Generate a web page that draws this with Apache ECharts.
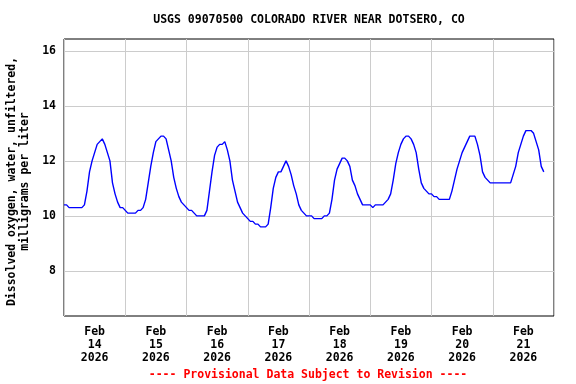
<!DOCTYPE html>
<html>
<head>
<meta charset="utf-8">
<script src="https://cdn.jsdelivr.net/npm/echarts@6/dist/echarts.min.js"></script>
<style>html,body{margin:0;padding:0;background:#fff}#c{width:576px;height:384px}</style>
</head>
<body>
<div id="c"></div>
<script>
// Hours since Feb 14 2026 00:00 (hourly readings)
const hours = [];
for (let h = 0; h <= 188; h++) hours.push(h);

// Dissolved oxygen, mg/L
const day14 = [10.4,10.4,10.3,10.3,10.3,10.3,10.3,10.3,10.4,10.9,11.6,12.0,12.3,12.6,12.7,12.8,12.6,12.3,12.0,11.2,10.8,10.5,10.3,10.3];
const day15 = [10.2,10.1,10.1,10.1,10.1,10.2,10.2,10.3,10.6,11.2,11.8,12.3,12.7,12.8,12.9,12.9,12.8,12.4,12.0,11.4,11.0,10.7,10.5,10.4];
const day16 = [10.3,10.2,10.2,10.1,10.0,10.0,10.0,10.0,10.2,10.9,11.6,12.2,12.5,12.6,12.6,12.7,12.4,12.0,11.3,10.9,10.5,10.3,10.1,10.0];
const day17 = [9.9,9.8,9.8,9.7,9.7,9.6,9.6,9.6,9.7,10.3,11.0,11.4,11.6,11.6,11.8,12.0,11.8,11.5,11.1,10.8,10.4,10.2,10.1,10.0];
const day18 = [10.0,10.0,9.9,9.9,9.9,9.9,10.0,10.0,10.1,10.6,11.3,11.7,11.9,12.1,12.1,12.0,11.8,11.3,11.1,10.8,10.6,10.4,10.4,10.4];
const day19 = [10.4,10.3,10.4,10.4,10.4,10.4,10.5,10.6,10.8,11.3,11.9,12.3,12.6,12.8,12.9,12.9,12.8,12.6,12.3,11.7,11.2,11.0,10.9,10.8];
const day20 = [10.8,10.7,10.7,10.6,10.6,10.6,10.6,10.6,10.9,11.3,11.7,12.0,12.3,12.5,12.7,12.9,12.9,12.9,12.6,12.2,11.6,11.4,11.3,11.2];
const day21 = [11.2,11.2,11.2,11.2,11.2,11.2,11.2,11.2,11.5,11.8,12.3,12.6,12.9,13.1,13.1,13.1,13.0,12.7,12.4,11.8,11.6];
const oxygen = [].concat(day14, day15, day16, day17, day18, day19, day20, day21);

// Axis labels
const dayLabelHours = [12, 36, 60, 84, 108, 132, 156, 180];
const dayLabels = ['Feb\n14\n2026','Feb\n15\n2026','Feb\n16\n2026','Feb\n17\n2026','Feb\n18\n2026','Feb\n19\n2026','Feb\n20\n2026','Feb\n21\n2026'];
const yTicks = [8, 10, 12, 14, 16];

const titleText = 'USGS 09070500 COLORADO RIVER NEAR DOTSERO, CO';
const yName = 'Dissolved oxygen, water, unfiltered,\nmilligrams per liter';
const footer = '---- Provisional Data Subject to Revision ----';

const FONT = 'DejaVu Sans Mono';
const chart = echarts.init(document.getElementById('c'), null, {renderer: 'canvas'});
chart.setOption({
  animation: false,
  backgroundColor: '#fff',
  grid: {left: 64, right: 22, top: 39, bottom: 68, show: true, borderColor: '#000', borderWidth: 1, backgroundColor: 'transparent'},
  xAxis: {
    type: 'value', min: 0, max: 192, interval: 24,
    axisLine: {show: false}, axisTick: {show: false},
    splitLine: {show: true, lineStyle: {color: '#cccccc', width: 1}},
    axisLabel: {
      customValues: dayLabelHours,
      margin: 10,
      fontFamily: FONT, fontWeight: 'bold', fontSize: 11.5, color: '#000', lineHeight: 12.7, align: 'center',
      formatter: function (v) { const i = dayLabelHours.indexOf(Math.round(v)); return i >= 0 ? dayLabels[i] : ''; }
    }
  },
  yAxis: {
    type: 'value', min: 6.36, max: 16.43,
    axisLine: {show: false},
    axisTick: {show: false, customValues: yTicks},
    splitLine: {show: true, lineStyle: {color: '#cccccc', width: 1}},
    axisLabel: {customValues: yTicks, margin: 8, fontFamily: FONT, fontWeight: 'bold', fontSize: 11.5, color: '#000'}
  },
  series: [{
    type: 'line',
    data: hours.map((h, i) => [h, oxygen[i]]),
    showSymbol: false, symbol: 'none',
    lineStyle: {color: '#0000ff', width: 1.4},
    z: 3
  }],
  graphic: [
    {type: 'text', x: 309, y: 20, style: {text: titleText, fontFamily: FONT, fontWeight: 'bold', fontSize: 11.5, fill: '#000', textAlign: 'center', textVerticalAlign: 'middle'}},
    {type: 'text', x: 18.5, y: 181.5, rotation: Math.PI / 2, style: {text: yName, fontFamily: FONT, fontWeight: 'bold', fontSize: 11.5, lineHeight: 13.3, fill: '#000', textAlign: 'center', textVerticalAlign: 'middle'}},
    {type: 'text', x: 308, y: 375, style: {text: footer, fontFamily: FONT, fontWeight: 'bold', fontSize: 11.5, fill: '#ff0000', textAlign: 'center', textVerticalAlign: 'middle'}}
  ]
});
</script>
</body>
</html>
